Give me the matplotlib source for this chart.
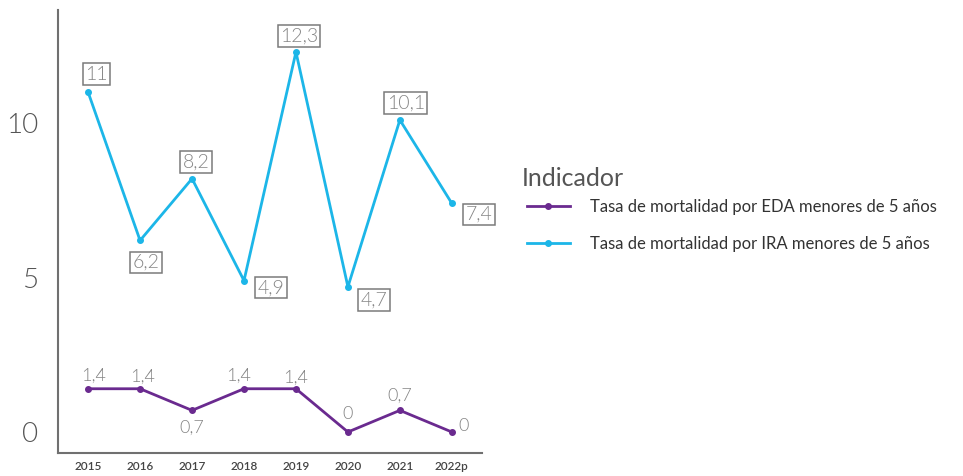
import matplotlib.pyplot as plt

years = ["2015", "2016", "2017", "2018", "2019", "2020", "2021", "2022p"]
eda = [1.4, 1.4, 0.7, 1.4, 1.4, 0.0, 0.7, 0.0]
ira = [11.0, 6.2, 8.2, 4.9, 12.3, 4.7, 10.1, 7.4]
eda_labels = ["1,4", "1,4", "0,7", "1,4", "1,4", "0", "0,7", "0"]
ira_labels = ["11", "6,2", "8,2", "4,9", "12,3", "4,7", "10,1", "7,4"]

# label offsets in pixels (dx, dy)
eda_offsets = [(5, 13), (2, 12), (0, -17), (-5, 13), (0, 11), (0, 18), (0, 15), (12, 6)]
ira_offsets = [(8, 18), (6, -22), (4, 17), (27, -7), (3, 16), (26, -13), (6, 17), (27, -11)]

EDA_COLOR = "#6a2a8f"
IRA_COLOR = "#1cb6e8"
LABEL_GRAY = "#858585"

plt.rcParams["font.family"] = ["Lato", "DejaVu Sans"]

fig = plt.figure(figsize=(9.63, 4.76), dpi=100)
ax = fig.add_axes([0.0602, 0.0483, 0.4403, 0.9307])

x = list(range(len(years)))
ax.plot(x, eda, color=EDA_COLOR, lw=2, marker="o", ms=4,
        label="Tasa de mortalidad por EDA menores de 5 años")
ax.plot(x, ira, color=IRA_COLOR, lw=2, marker="o", ms=4,
        label="Tasa de mortalidad por IRA menores de 5 años")

for i in x:
    ax.annotate(eda_labels[i], (i, eda[i]), xytext=eda_offsets[i],
                textcoords="offset pixels", ha="center", va="center",
                fontsize=13, color=LABEL_GRAY, fontweight=300)
    ax.annotate(ira_labels[i], (i, ira[i]), xytext=ira_offsets[i],
                textcoords="offset pixels", ha="center", va="center",
                fontsize=14, color=LABEL_GRAY, fontweight=300,
                bbox=dict(boxstyle="square,pad=0.12", fc="white",
                          ec="#7a7a7a", lw=1.1))

ax.set_xlim(-0.58, 7.58)
ax.set_ylim(-0.68, 13.66)
ax.set_xticks(x)
ax.set_xticklabels(years, fontsize=8.5, color="#444444", fontweight="semibold")
ax.set_yticks([0, 5, 10])
ax.set_yticklabels(["0", "5", "10"], fontsize=20, color="#555555",
                   fontweight=300)
ax.tick_params(axis="both", length=0)
ax.tick_params(axis="y", pad=14)
ax.tick_params(axis="x", pad=6)

for side in ["top", "right"]:
    ax.spines[side].set_visible(False)
for side in ["left", "bottom"]:
    ax.spines[side].set_color("#707070")
    ax.spines[side].set_linewidth(1.5)

fig.text(0.542, 1 - 178 / 476, "Indicador", fontsize=18, color="#555555",
         ha="left", va="center")
leg = fig.legend(loc="upper left", bbox_to_anchor=(0.547, 1 - 199 / 476),
                 frameon=False, fontsize=12, handlelength=2.6,
                 handletextpad=1.2, labelspacing=1.25, borderpad=0,
                 borderaxespad=0)
for t in leg.get_texts():
    t.set_color("#333333")

fig.savefig("out.png", dpi=100)
